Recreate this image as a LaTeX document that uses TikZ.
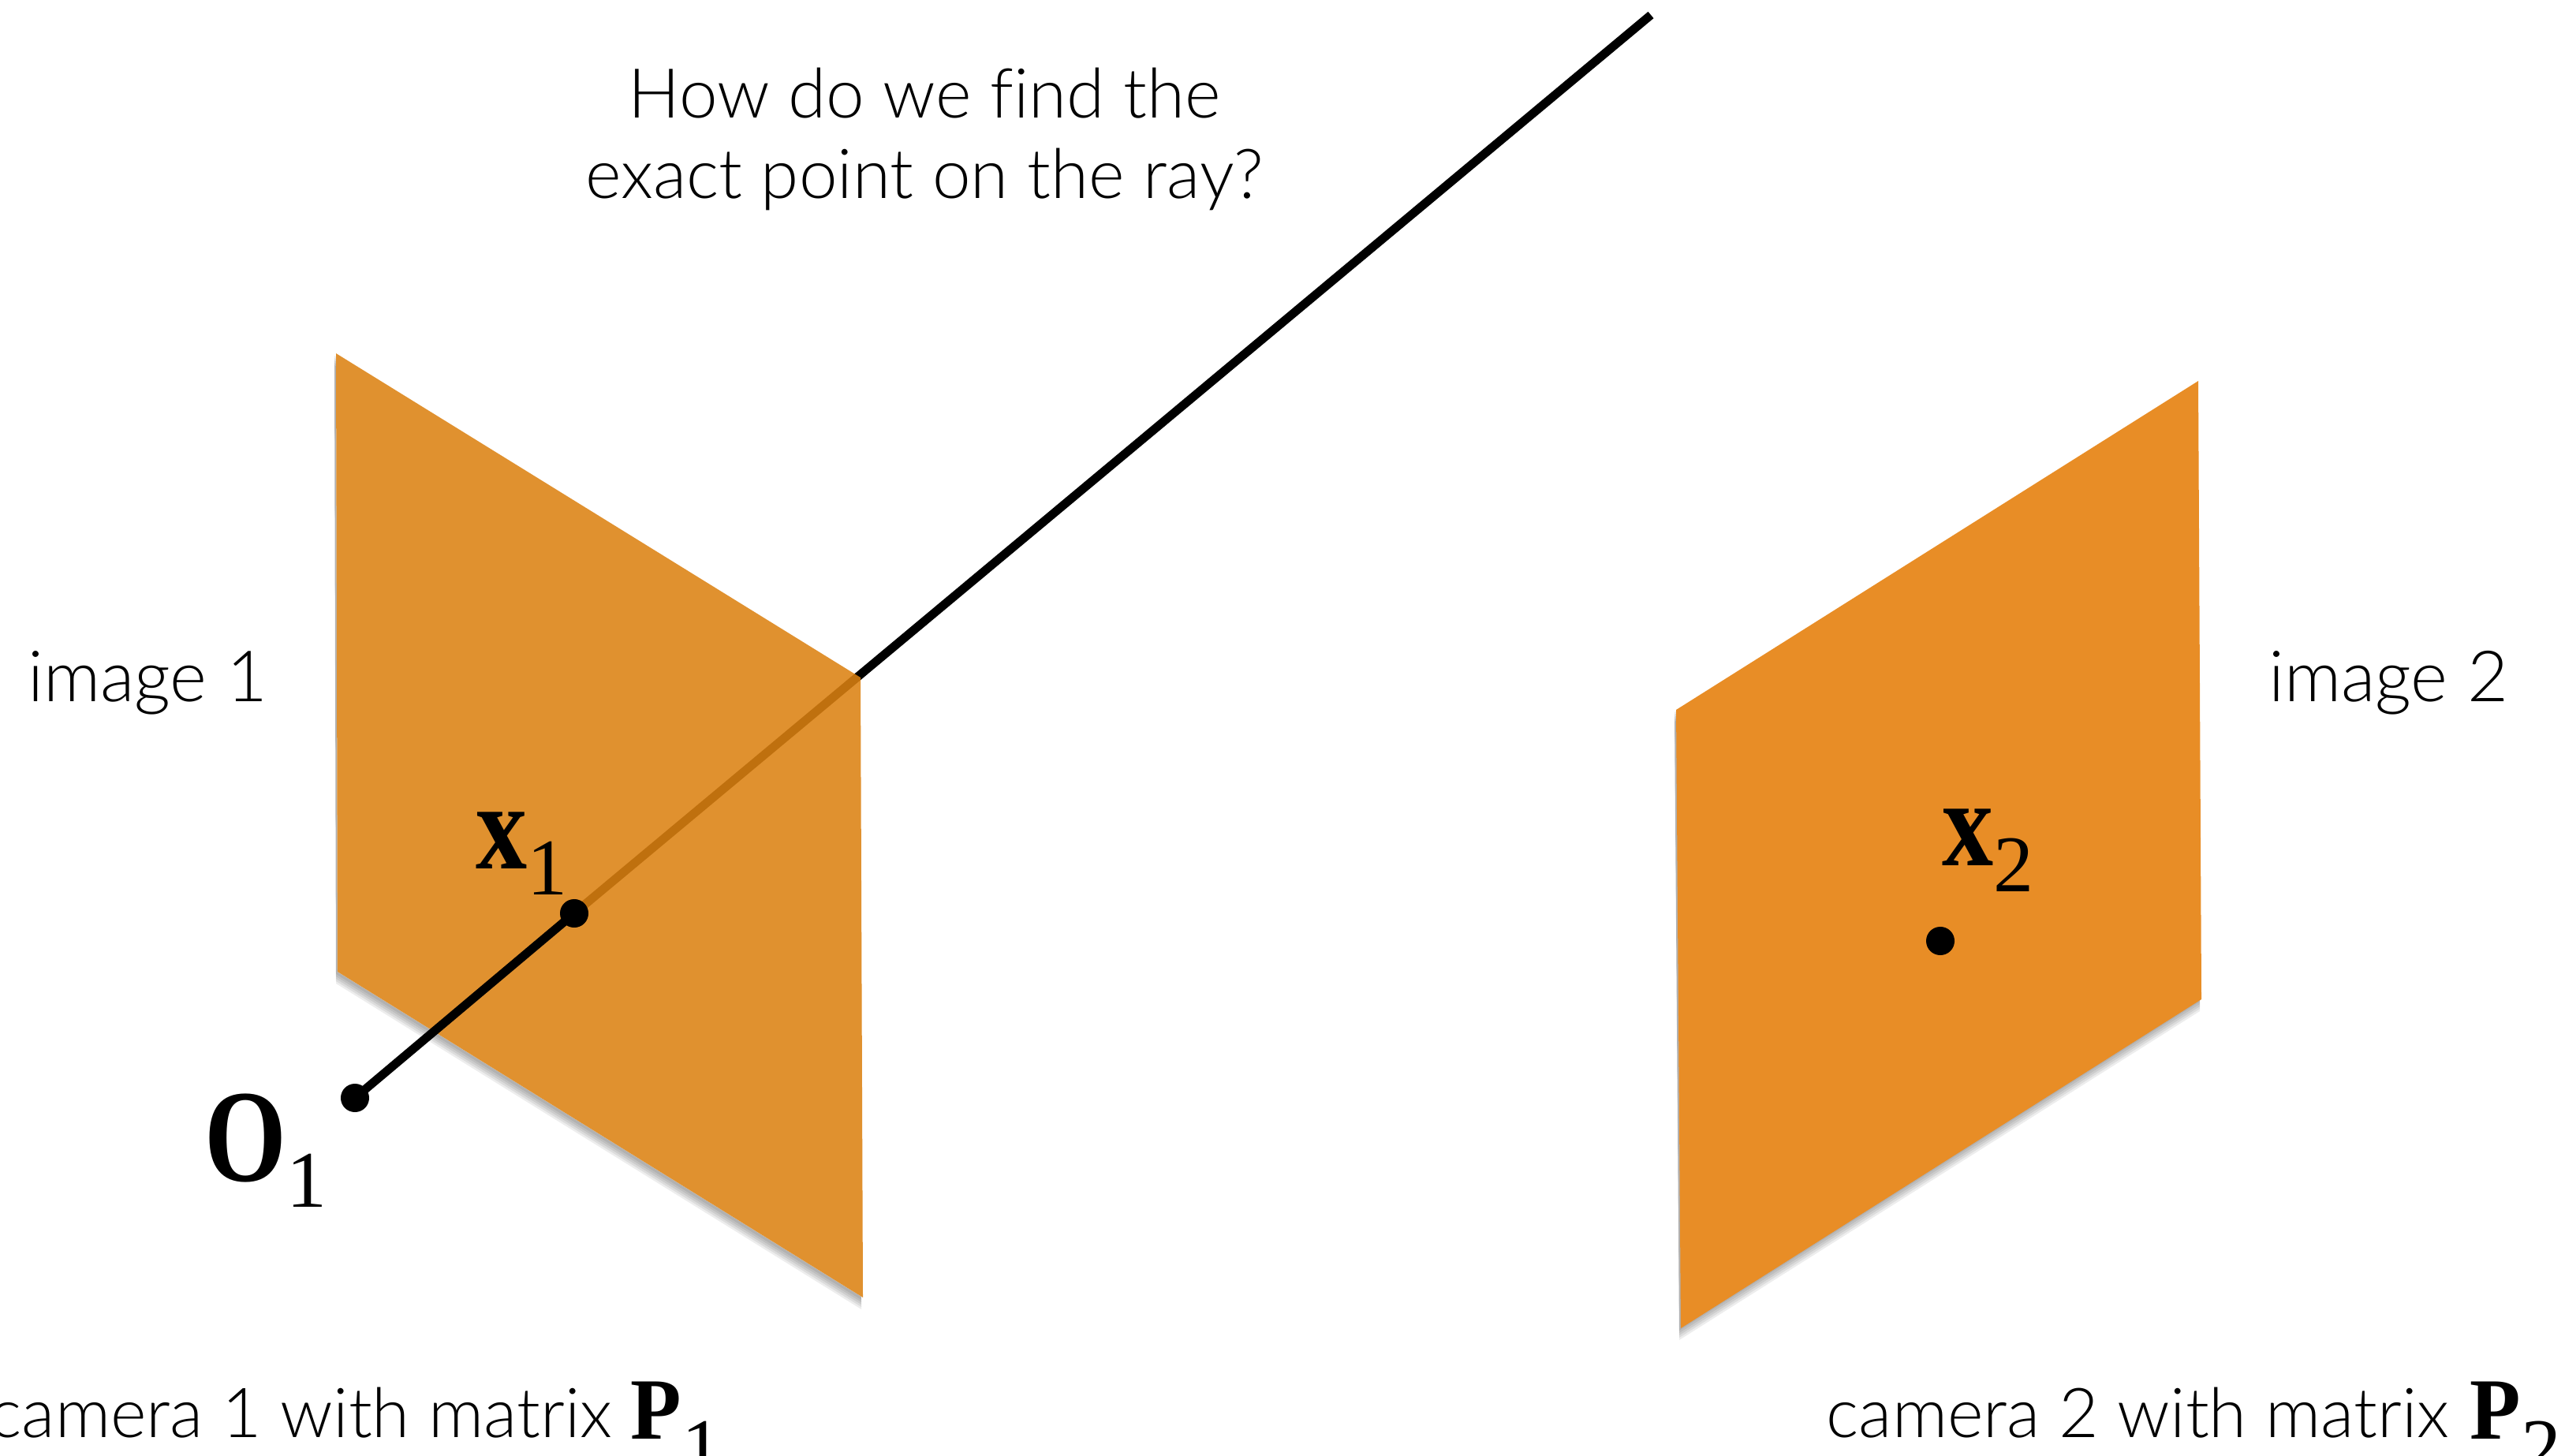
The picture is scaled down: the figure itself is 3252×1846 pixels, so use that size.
\documentclass[tikz,border=0pt]{standalone}
\usepackage{fontspec}
\usepackage{graphicx}
\setmainfont{Lato Light}[Ligatures=NoCommon]
\newfontfamily\labelbold{Liberation Serif Bold}
\newfontfamily\labelplain{Liberation Serif}
\usetikzlibrary{positioning}
\definecolor{planeA}{RGB}{220,129,17}
\definecolor{planeB}{RGB}{232,141,38}

% bold letter with a plain subscript: size, stretch, drop, letter, digit
\newcommand{\boldsub}[5]{{\fontsize{#1}{#1}\labelbold \scalebox{1}[#2]{#4}\raisebox{-#3}{\fontsize{29}{29}\labelplain #5}}}

\tikzset{
  caption/.style={font=\fontsize{24.8}{29}\selectfont, inner sep=0pt},
  symbol/.style={anchor=base west, inner sep=0pt},
  pointdot/.style={circle, fill=black, minimum size=0.36cm, inner sep=0pt},
  ray/.style={line width=3.1pt}
}

\begin{document}
\begin{tikzpicture}[x=0.01cm,y=-0.01cm]
\useasboundingbox (0,0) rectangle (3252,1846);

%---------------------------------------
% Image planes
%---------------------------------------
\def\planeL{(426,448) -- (1091,859) -- (1094,1645) -- (428,1232) -- cycle}
\def\planeR{(2787,483) -- (2791,1267) -- (2131,1684) -- (2125,900) -- cycle}

% soft shadow under both planes
\foreach \d in {3,6,9,12,15}{
  \fill[black, opacity=0.07, shift={(-2,\d)}] \planeL;
  \fill[black, opacity=0.07, shift={(-2,\d)}] \planeR;
}
\fill[white] \planeL;

%---------------------------------------
% Points
%---------------------------------------
\coordinate (rayEnd) at (2093,19);
\node[pointdot] (O1) at (450,1392) {};
\node[pointdot] (x1) at (728,1158) {};
\node[pointdot] (x2) at (2460,1193) {};

%---------------------------------------
% Ray through x1, seen behind the left plane
%---------------------------------------
\draw[ray] (x1.center) -- (rayEnd);
\fill[planeA, opacity=0.87] \planeL;
\fill[planeB] \planeR;
\draw[ray] (O1.center) -- (x1.center);
\node[pointdot] at (x1) {};
\node[pointdot] at (x2) {};

%---------------------------------------
% Labels
%---------------------------------------
\node[caption, align=center] (question) at (1172,176) {How do we find the\\exact point on the ray?};
\node[caption, font=\fontsize{25.5}{29}\selectfont] (imageL) at (187,866) {image 1};
\node[caption, font=\fontsize{25.5}{29}\selectfont] (imageR) at (3028,866) {image 2};

\node[caption, anchor=base west] (cameraL) at (-14,1822) {camera 1 with matrix};
\node[caption, anchor=base west] (cameraR) at (2315,1822) {camera 2 with matrix};
\node[symbol] (P1) at (799,1824) {\boldsub{30}{1.05}{13pt}{P}{1}};
\node[symbol] (P2) at (3131,1824) {\boldsub{30}{1.05}{13pt}{P}{2}};

\node[symbol] (labelO) at (259,1497) {\boldsub{38}{1.25}{9.5pt}{O}{1}};
\node[symbol] (labelA) at (603,1101) {\boldsub{37}{1.2}{9.5pt}{x}{1}};
\node[symbol] (labelB) at (2462,1097) {\boldsub{37}{1.2}{9.5pt}{x}{2}};

\end{tikzpicture}
\end{document}
